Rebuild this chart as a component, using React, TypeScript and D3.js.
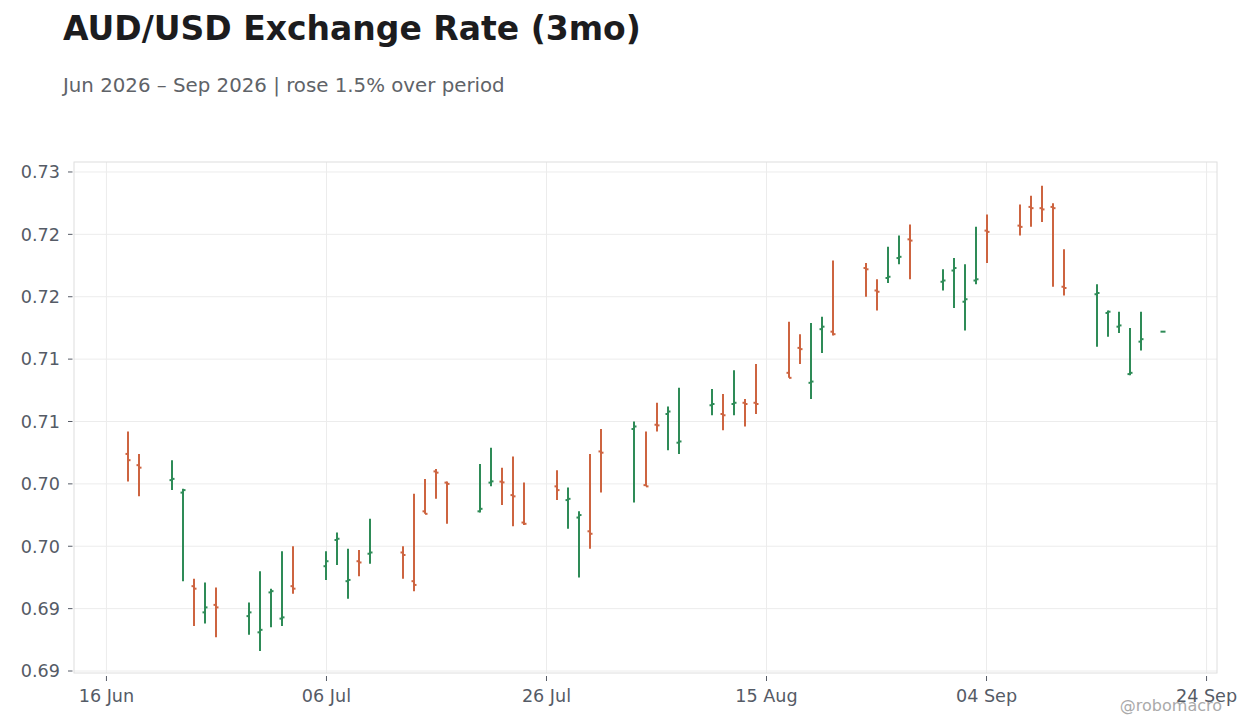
import * as d3 from "d3";

const DATES = [
  "2026-06-18", "2026-06-19", "2026-06-22", "2026-06-23", "2026-06-24", "2026-06-25", "2026-06-26",
  "2026-06-29", "2026-06-30", "2026-07-01", "2026-07-02", "2026-07-03",
  "2026-07-06", "2026-07-07", "2026-07-08", "2026-07-09", "2026-07-10",
  "2026-07-13", "2026-07-14", "2026-07-15", "2026-07-16", "2026-07-17",
  "2026-07-20", "2026-07-21", "2026-07-22", "2026-07-23", "2026-07-24",
  "2026-07-27", "2026-07-28", "2026-07-29", "2026-07-30", "2026-07-31",
  "2026-08-03", "2026-08-04", "2026-08-05", "2026-08-06", "2026-08-07",
  "2026-08-10", "2026-08-11", "2026-08-12", "2026-08-13", "2026-08-14",
  "2026-08-17", "2026-08-18", "2026-08-19", "2026-08-20", "2026-08-21",
  "2026-08-24", "2026-08-25", "2026-08-26", "2026-08-27", "2026-08-28",
  "2026-08-31", "2026-09-01", "2026-09-02", "2026-09-03", "2026-09-04",
  "2026-09-07", "2026-09-08", "2026-09-09", "2026-09-10", "2026-09-11",
  "2026-09-14", "2026-09-15", "2026-09-16", "2026-09-17", "2026-09-18",
  "2026-09-20",
];

const OPEN = [
  0.7074, 0.7065, 0.7053, 0.7043, 0.6968, 0.6947, 0.6953,
  0.6944, 0.6931, 0.6963, 0.6942, 0.6968,
  0.6984, 0.7005, 0.6972, 0.6988, 0.6994,
  0.6995, 0.6972, 0.7028, 0.706, 0.7051,
  0.7028, 0.7051, 0.70518, 0.7041, 0.7019,
  0.7048, 0.7037, 0.7023, 0.7012, 0.7076,
  0.7094, 0.7049, 0.70974, 0.7106, 0.7083,
  0.7113, 0.7106, 0.7114, 0.7115, 0.7115,
  0.7139, 0.7159, 0.7131, 0.7174, 0.7172,
  0.7223, 0.7205, 0.7215, 0.7231, 0.7246,
  0.7212, 0.7221, 0.7196, 0.7213, 0.7253,
  0.7257, 0.7272, 0.7271, 0.7272, 0.7208,
  0.7202, 0.7187, 0.7176, 0.7138, 0.7164,
  0.7172,
];

const HIGH = [
  0.7092, 0.7074, 0.7069, 0.7046, 0.6974, 0.6971, 0.6967,
  0.6955, 0.698, 0.6966, 0.6996, 0.7,
  0.6996, 0.7011, 0.6998, 0.6997, 0.7022,
  0.7, 0.7042, 0.7054, 0.7062, 0.7052,
  0.7066, 0.7079, 0.7063, 0.7072, 0.7051,
  0.7061, 0.7047, 0.7028, 0.7074, 0.7094,
  0.71, 0.7092, 0.7115, 0.7112, 0.7127,
  0.7126, 0.7122, 0.7141, 0.7118, 0.7146,
  0.718, 0.717, 0.7179, 0.7184, 0.7229,
  0.7227, 0.7214, 0.724, 0.7249, 0.7258,
  0.7222, 0.7231, 0.7226, 0.7256, 0.7266,
  0.7274, 0.7281, 0.7289, 0.7275, 0.7238,
  0.721, 0.7189, 0.7188, 0.7175, 0.7188,
  0.7172,
];

const LOW = [
  0.7052, 0.704, 0.7045, 0.6972, 0.6936, 0.6938, 0.6927,
  0.6929, 0.6916, 0.6935, 0.6936, 0.6962,
  0.6973, 0.6985, 0.6958, 0.6976, 0.6986,
  0.6974, 0.6964, 0.7026, 0.7038, 0.7018,
  0.7027, 0.7048, 0.7033, 0.7016, 0.7017,
  0.7037, 0.7014, 0.6975, 0.6998, 0.7043,
  0.7035, 0.7048, 0.7092, 0.7077, 0.7074,
  0.7105, 0.7093, 0.7105, 0.7096, 0.7106,
  0.7135, 0.7146, 0.7118, 0.7155, 0.7169,
  0.72, 0.7189, 0.7211, 0.7226, 0.7214,
  0.7205, 0.7191, 0.7173, 0.721, 0.7227,
  0.7249, 0.7256, 0.726, 0.7208, 0.7201,
  0.716, 0.7168, 0.7171, 0.7137, 0.7157,
  0.7172,
];

const CLOSE = [
  0.7069, 0.7063, 0.7054, 0.7045, 0.6966, 0.6951, 0.6951,
  0.6947, 0.6933, 0.6964, 0.6943, 0.6966,
  0.6988, 0.7006, 0.6973, 0.6987, 0.6995,
  0.6993, 0.6969, 0.7026, 0.7059, 0.705,
  0.703, 0.7052, 0.70512, 0.704, 0.7018,
  0.7045, 0.7038, 0.7025, 0.701, 0.7075,
  0.7096, 0.7048, 0.70969, 0.7108, 0.7084,
  0.7114, 0.7105, 0.7115, 0.7114, 0.7114,
  0.7135, 0.7158, 0.7132, 0.7176, 0.717,
  0.7222, 0.7204, 0.7216, 0.7232, 0.7245,
  0.7213, 0.7223, 0.7198, 0.7214, 0.7252,
  0.7256, 0.7271, 0.727, 0.7271, 0.7207,
  0.7203, 0.7188, 0.7177, 0.7139, 0.7166,
  0.7172,
];

const Y_TICKS = [0.69, 0.695, 0.7, 0.705, 0.71, 0.715, 0.72, 0.725, 0.73];
const X_TICKS = ["2026-06-16", "2026-07-06", "2026-07-26", "2026-08-15", "2026-09-04", "2026-09-24"];

const UP = "#2e8b57";
const DOWN = "#cd6440";
const FONT = "'DejaVu Sans', sans-serif";

const W = 1260;
const H = 728;
const plot = { left: 74, right: 1217, top: 162, bottom: 673 };
const DAY = 86400000;

export default function App() {
  const parse = d3.utcParse("%Y-%m-%d");
  const bars = DATES.map((d, i) => ({
    date: parse(d) as Date,
    o: OPEN[i],
    h: HIGH[i],
    l: LOW[i],
    c: CLOSE[i],
  }));

  const [d0, d1] = d3.extent(bars, (b) => b.date) as [Date, Date];
  const pad = 4.95 * DAY;
  const x = d3
    .scaleUtc()
    .domain([new Date(+d0 - pad), new Date(+d1 + pad)])
    .range([plot.left, plot.right]);
  const y = d3.scaleLinear().domain([0.68984, 0.7308]).range([plot.bottom, plot.top]);

  const fmtX = d3.utcFormat("%d %b");
  const fmtY = (v: number) => v.toFixed(2);
  const xTicks = X_TICKS.map((d) => parse(d) as Date);
  const tick = 2.5;

  return (
    <svg
      width={W}
      height={H}
      viewBox={`0 0 ${W} ${H}`}
      style={{ position: "absolute", left: 0, top: 0, background: "#fff" }}
      fontFamily={FONT}
    >
      <rect width={W} height={H} fill="#fff" />
      <text x={63} y={40} fontSize={33} fontWeight="bold" fill="#1c1c1e">
        AUD/USD Exchange Rate (3mo)
      </text>
      <text x={63} y={92} fontSize={19.8} fill="#5f6368">
        Jun 2026 – Sep 2026 | rose 1.5% over period
      </text>

      {/* grid */}
      <g stroke="#ececec" strokeWidth={1}>
        {Y_TICKS.map((t) => (
          <line key={t} x1={plot.left} x2={plot.right} y1={y(t)} y2={y(t)} />
        ))}
        {xTicks.map((t) => (
          <line key={+t} x1={x(t)} x2={x(t)} y1={plot.top} y2={plot.bottom} />
        ))}
      </g>
      <rect
        x={plot.left}
        y={plot.top}
        width={plot.right - plot.left}
        height={plot.bottom - plot.top}
        fill="none"
        stroke="#dedede"
        strokeWidth={1}
      />

      {/* y axis */}
      <g fill="#555b66" fontSize={17.6} textAnchor="end">
        {Y_TICKS.map((t) => (
          <g key={t}>
            <line x1={plot.left - 6} x2={plot.left - 1.5} y1={y(t)} y2={y(t)} stroke="#555b66" strokeWidth={1} />
            <text x={plot.left - 14} y={y(t)} dy="0.36em">
              {fmtY(t)}
            </text>
          </g>
        ))}
      </g>

      {/* x axis */}
      <g fill="#555b66" fontSize={17.6} textAnchor="middle">
        {xTicks.map((t) => (
          <g key={+t}>
            <line x1={x(t)} x2={x(t)} y1={plot.bottom + 3} y2={plot.bottom + 8} stroke="#555b66" strokeWidth={1} />
            <text x={x(t)} y={702}>
              {fmtX(t)}
            </text>
          </g>
        ))}
      </g>

      {/* OHLC bars */}
      <g strokeWidth={2} fill="none">
        {bars.map((b) => {
          const cx = Math.round(x(b.date));
          const col = b.c >= b.o ? UP : DOWN;
          return (
            <g key={+b.date} stroke={col}>
              {b.h > b.l && <line x1={cx} x2={cx} y1={y(b.h)} y2={y(b.l)} />}
              <line x1={cx - tick} x2={cx} y1={y(b.o)} y2={y(b.o)} />
              <line x1={cx} x2={cx + tick} y1={y(b.c)} y2={y(b.c)} />
            </g>
          );
        })}
      </g>

      <text x={1222} y={711} fontSize={16} fill="#aaaaaa" textAnchor="end">
        @robomacro
      </text>
    </svg>
  );
}
